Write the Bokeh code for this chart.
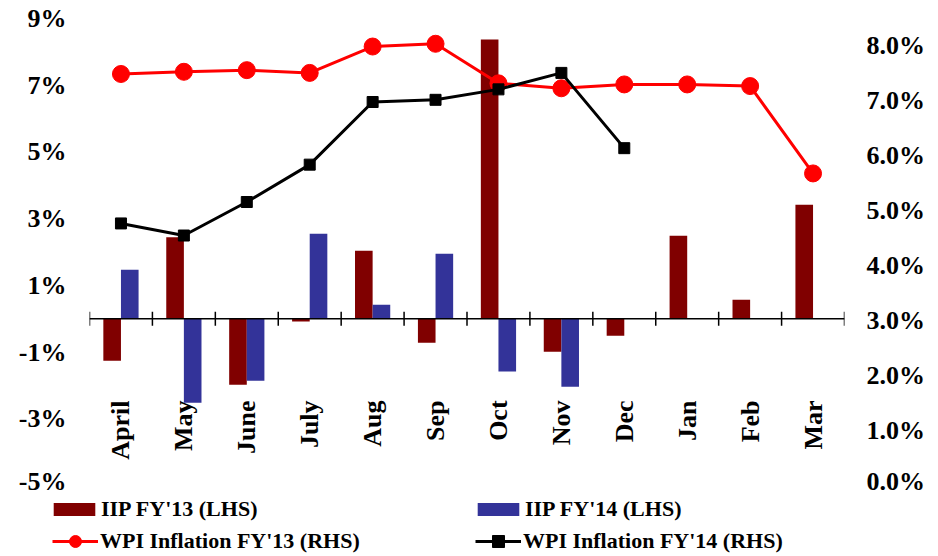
import math
from bokeh.plotting import figure
from bokeh.models import (ColumnDataSource, Range1d, LinearAxis, FixedTicker,
                          PrintfTickFormatter, Span, Legend, LegendItem)
from bokeh.transform import dodge
from bokeh.core.properties import value
from bokeh.embed import file_html
from bokeh.resources import INLINE

months = ["April", "May", "June", "July", "Aug", "Sep", "Oct", "Nov", "Dec", "Jan", "Feb", "Mar"]
iip_fy13 = [-1.26, 2.44, -1.98, -0.08, 2.04, -0.72, 8.37, -0.99, -0.51, 2.49, 0.57, 3.42]
iip_fy14_months = ["April", "May", "June", "July", "Aug", "Sep", "Oct", "Nov"]
iip_fy14 = [1.47, -2.52, -1.86, 2.55, 0.42, 1.95, -1.58, -2.04]
wpi_fy13 = [7.49, 7.53, 7.56, 7.51, 7.99, 8.04, 7.32, 7.23, 7.30, 7.30, 7.27, 5.68]
wpi_fy14_months = ["April", "May", "June", "July", "Aug", "Sep", "Oct", "Nov", "Dec"]
wpi_fy14 = [4.77, 4.55, 5.16, 5.84, 6.98, 7.02, 7.21, 7.51, 6.14]
lhs_ticks = [-5, -3, -1, 1, 3, 5, 7, 9]
rhs_ticks = [0, 1, 2, 3, 4, 5, 6, 7, 8]
series_labels = ["IIP FY'13 (LHS)", "IIP FY'14 (LHS)",
                 "WPI Inflation FY'13 (RHS)", "WPI Inflation FY'14 (RHS)"]

FONT = "Liberation Serif"
DARKRED = "#800000"
BLUE = "#333399"
RED = "#FF0000"

p = figure(width=938, height=495, x_range=months, y_range=Range1d(-5, 9),
           output_backend="svg", toolbar_location=None, x_axis_location=None,
           min_border_left=89, min_border_right=94, min_border_top=18,
           min_border_bottom=10)
p.x_range.range_padding = 0
p.outline_line_color = None
p.grid.visible = False
p.extra_y_ranges = {"rhs": Range1d(0, 8.5)}

def style_axis(ax):
    ax.axis_line_color = None
    ax.major_tick_line_color = None
    ax.minor_tick_line_color = None
    ax.major_tick_out = 0
    ax.major_tick_in = 0
    ax.major_label_text_font = FONT
    ax.major_label_text_font_style = "bold"
    ax.major_label_text_font_size = "26px"
    ax.major_label_text_color = "black"

yl = p.yaxis[0]
yl.ticker = FixedTicker(ticks=lhs_ticks)
yl.formatter = PrintfTickFormatter(format="%d%%")
style_axis(yl)
yl.major_label_standoff = 23

yr = LinearAxis(y_range_name="rhs", ticker=FixedTicker(ticks=rhs_ticks),
                formatter=PrintfTickFormatter(format="%.1f%%"))
style_axis(yr)
yr.major_label_standoff = 22
p.add_layout(yr, "right")

src13 = ColumnDataSource(dict(m=months, v=iip_fy13))
src14 = ColumnDataSource(dict(m=iip_fy14_months, v=iip_fy14))
w13 = ColumnDataSource(dict(m=months, v=wpi_fy13))
w14 = ColumnDataSource(dict(m=wpi_fy14_months, v=wpi_fy14))

def draw_bars(fig):
    b13 = fig.vbar(x=dodge("m", -0.14, range=fig.x_range), top="v", bottom=0, width=0.28,
                   source=src13, fill_color=DARKRED, line_color=None)
    b14 = fig.vbar(x=dodge("m", 0.14, range=fig.x_range), top="v", bottom=0, width=0.28,
                   source=src14, fill_color=BLUE, line_color=None)
    return b13, b14

def draw_lines(fig, **kw):
    l13 = fig.line(x="m", y="v", source=w13, line_color=RED, line_width=3, **kw)
    s13 = fig.scatter(x="m", y="v", source=w13, marker="circle", size=17,
                      fill_color=RED, line_color=RED, **kw)
    l14 = fig.line(x="m", y="v", source=w14, line_color="black", line_width=3, **kw)
    s14 = fig.scatter(x="m", y="v", source=w14, marker="square", size=11,
                      fill_color="black", line_color="black", **kw)
    return l13, s13, l14, s14

draw_bars(p)

# zero axis line with crossing tick marks
p.add_layout(Span(location=0, dimension="width", line_color="black", line_width=1.5))
tick_src = ColumnDataSource(dict(m=months, y0=[-0.21] * len(months), y1=[0.21] * len(months)))
p.segment(x0=dodge("m", -0.5, range=p.x_range), x1=dodge("m", -0.5, range=p.x_range),
          y0="y0", y1="y1", source=tick_src, line_color="black", line_width=1.5)
end_src = ColumnDataSource(dict(m=[months[-1]], y0=[-0.21], y1=[0.21]))
p.segment(x0=dodge("m", 0.5, range=p.x_range), x1=dodge("m", 0.5, range=p.x_range),
          y0="y0", y1="y1", source=end_src, line_color="black", line_width=1.5)

# category labels, rotated, hanging below the zero line
label_y = -2.45
lab_src = ColumnDataSource(dict(m=months, y=[label_y] * len(months)))
p.text(x="m", y="y", text="m", source=lab_src, angle=math.pi / 2,
       text_align="right", text_baseline="middle", text_font=value(FONT),
       text_font_style="bold", text_font_size="26px", text_color="black")

draw_lines(p, y_range_name="rhs")

# legend strip below the chart (same series, scrolled out of its view)
lg = figure(width=938, height=61, output_backend="svg", toolbar_location=None,
            x_axis_location=None, y_axis_location=None, min_border=0,
            x_range=months, y_range=Range1d(100, 101))
lg.outline_line_color = None
lg.grid.visible = False
r_b13, r_b14 = draw_bars(lg)
r_l13, r_s13, r_l14, r_s14 = draw_lines(lg)

def make_legend(items, loc, glyph_w, glyph_h, standoff, label_w):
    leg = Legend(items=items, location=loc, orientation="horizontal",
                 padding=0, margin=0, spacing=0, glyph_width=glyph_w,
                 glyph_height=glyph_h, label_height=26, label_width=label_w,
                 label_standoff=standoff, border_line_color=None,
                 background_fill_alpha=0, label_text_font=FONT,
                 label_text_font_style="bold", label_text_font_size="22px",
                 label_text_color="black")
    lg.add_layout(leg, "center")

make_legend([LegendItem(label=series_labels[0], renderers=[r_b13]),
             LegendItem(label=series_labels[1], renderers=[r_b14])],
            (48, 34), 52, 16, 1, 371)
make_legend([LegendItem(label=series_labels[2], renderers=[r_l13, r_s13]),
             LegendItem(label=series_labels[3], renderers=[r_l14, r_s14])],
            (52, 0), 46, 30, 2, 375)

open("out.html", "w").write(file_html([p, lg], INLINE))
